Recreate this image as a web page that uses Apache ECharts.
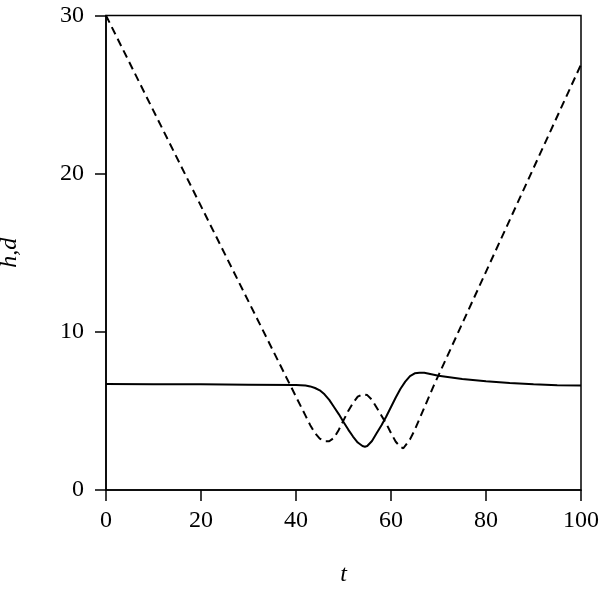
<!DOCTYPE html>
<html>
<head>
<meta charset="utf-8">
<script src="https://cdn.jsdelivr.net/npm/echarts@6/dist/echarts.min.js"></script>
<style>html,body{margin:0;padding:0;background:#fff;}#c{width:600px;height:590px;}</style>
</head>
<body>
<div id="c"></div>
<script>
// t values and series values
var hT = [0,10,20,30,40,42,43,44,45,46,47,48,49,50,51,52,53,54,54.5,55,56,57,58,59,60,61,62,63,64,65,66,67,68,70,75,80,85,90,95,100];
var hV = [6.7,6.69,6.68,6.66,6.64,6.6,6.55,6.45,6.3,6.05,5.7,5.25,4.8,4.3,3.82,3.38,3.0,2.78,2.74,2.78,3.1,3.6,4.1,4.65,5.25,5.85,6.4,6.85,7.2,7.38,7.42,7.41,7.35,7.22,7.02,6.88,6.76,6.68,6.63,6.6];
var dT = [0,38,40,42,43,44,45,46,47,48,49,50,51,52,53,54,55,56,57,58,59,60,61,62,62.6,63,64,65,66,67,68,69,70,100];
var dV = [30,7.1,5.9,4.7,4.1,3.6,3.25,3.08,3.08,3.3,3.8,4.4,5.0,5.5,5.9,6.05,6.0,5.7,5.2,4.7,4.2,3.6,3.05,2.72,2.64,2.7,3.2,3.8,4.5,5.2,5.9,6.6,7.25,26.9];
var xTicks = [0,20,40,60,80,100];
var yTicks = [0,10,20,30];

function pairs(t, v){ var o=[]; for (var i=0;i<t.length;i++) o.push([t[i], v[i]]); return o; }

var chart = echarts.init(document.getElementById('c'), null, {renderer:'canvas'});
var font = 'Liberation Serif';
chart.setOption({
  animation:false,
  backgroundColor:'#fff',
  grid:{left:106, right:19, top:15.5, bottom:100, show:true, borderColor:'#000', borderWidth:1.5,
        backgroundColor:'transparent', outerBoundsMode:'none', containLabel:false},
  xAxis:{
    type:'value', min:xTicks[0], max:xTicks[xTicks.length-1], interval:20,
    name:'t', nameLocation:'middle', nameGap:73,
    nameTextStyle:{fontFamily:font, fontStyle:'italic', fontSize:24, color:'#000'},
    axisLine:{show:true, lineStyle:{color:'#000', width:1.5}},
    axisTick:{show:true, inside:false, length:11, lineStyle:{color:'#000', width:1.5}},
    axisLabel:{fontFamily:font, fontSize:24, color:'#000', margin:19},
    splitLine:{show:false}
  },
  yAxis:{
    type:'value', min:yTicks[0], max:yTicks[yTicks.length-1], interval:10,
    name:'h,d', nameLocation:'middle', nameGap:84,
    nameTextStyle:{fontFamily:font, fontStyle:'italic', fontSize:24, color:'#000'},
    axisLine:{show:true, lineStyle:{color:'#000', width:1.5}},
    axisTick:{show:true, inside:false, length:11, lineStyle:{color:'#000', width:1.5}},
    axisLabel:{fontFamily:font, fontSize:24, color:'#000', margin:22},
    splitLine:{show:false}
  },
  series:[
    {type:'line', name:'h', data:pairs(hT,hV), showSymbol:false, smooth:false,
     lineStyle:{color:'#000', width:2, type:'solid'}},
    {type:'line', name:'d', data:pairs(dT,dV), showSymbol:false, smooth:false,
     lineStyle:{color:'#000', width:2, type:[8,5]}}
  ]
});
</script>
</body>
</html>
